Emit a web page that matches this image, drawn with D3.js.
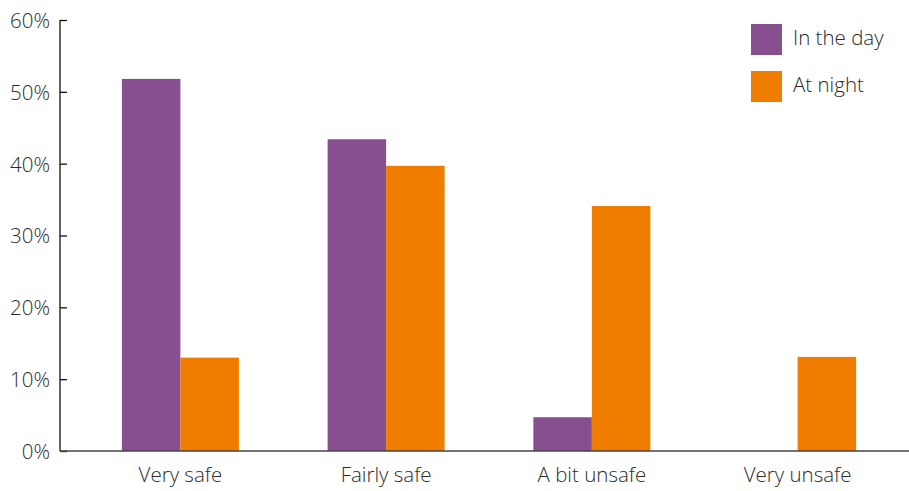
<!DOCTYPE html>
<html>
<head>
<meta charset="utf-8">
<script src="https://cdn.jsdelivr.net/npm/d3@7"></script>
<style>
  html, body { margin: 0; padding: 0; background: #fff; }
  svg text { font-family: "Open Sans", Lato, sans-serif; font-weight: 300; fill: #2b2b2b; }
</style>
</head>
<body>
<svg id="chart" width="909" height="491"></svg>
<script>
const categories = ["Very safe", "Fairly safe", "A bit unsafe", "Very unsafe"];
const seriesNames = ["In the day", "At night"];
const dayValues = [51.8, 43.4, 4.7, 0];
const nightValues = [13.0, 39.7, 34.1, 13.1];
const yTicks = [0, 10, 20, 30, 40, 50, 60];
const colors = ["#874f8f", "#f07d00"];

const svg = d3.select("#chart");
const y = d3.scaleLinear().domain([0, 60]).range([451, 20]);
const x0 = d3.scaleBand().domain(categories).range([77.5, 900.5]).paddingInner(0).paddingOuter(0);
const groupWidth = 117;
const x1 = d3.scaleBand().domain(seriesNames).range([0, groupWidth]);

const data = categories.map((c, i) => ({ cat: c, vals: [dayValues[i], nightValues[i]] }));

// bars
const g = svg.append("g");
data.forEach(d => {
  const cx = x0(d.cat) + x0.bandwidth() / 2;
  d.vals.forEach((v, j) => {
    if (v <= 0) return;
    g.append("rect")
      .attr("x", cx - groupWidth / 2 + x1(seriesNames[j]))
      .attr("y", y(v))
      .attr("width", x1.bandwidth())
      .attr("height", y(0) - y(v))
      .attr("fill", colors[j]);
  });
});

// y axis
const yAxis = d3.axisRight(y).tickValues(yTicks).tickSize(7).tickFormat(d => d + "%");
const ya = svg.append("g").attr("transform", "translate(60,0)").call(yAxis);
ya.select(".domain").attr("stroke", "#111").attr("stroke-width", 1.3).attr("d", `M0,${y(60)}V${y(0)}`);
ya.selectAll(".tick line").attr("stroke", "#111").attr("stroke-width", 1.3);
ya.selectAll(".tick text").attr("x", -10).attr("text-anchor", "end").attr("dy", "0.36em")
  .style("font-size", "20.5px");

// x axis
const xa = svg.append("g").attr("transform", `translate(0,${y(0)})`)
  .call(d3.axisBottom(x0).tickSize(0).tickPadding(16));
xa.select(".domain").attr("stroke", "#444").attr("stroke-width", 1.6).attr("d", `M60,0H909`);
xa.selectAll(".tick text").style("font-size", "20.5px").attr("dy", "0.71em");

// legend
const lg = svg.append("g").attr("transform", "translate(751,24)");
seriesNames.forEach((s, i) => {
  const row = lg.append("g").attr("transform", `translate(0,${i * 47})`);
  row.append("rect").attr("width", 31).attr("height", 31).attr("fill", colors[i]);
  row.append("text").attr("x", 42).attr("y", 14).attr("dy", "0.36em")
    .style("font-size", "20.5px").text(s);
});
</script>
</body>
</html>
